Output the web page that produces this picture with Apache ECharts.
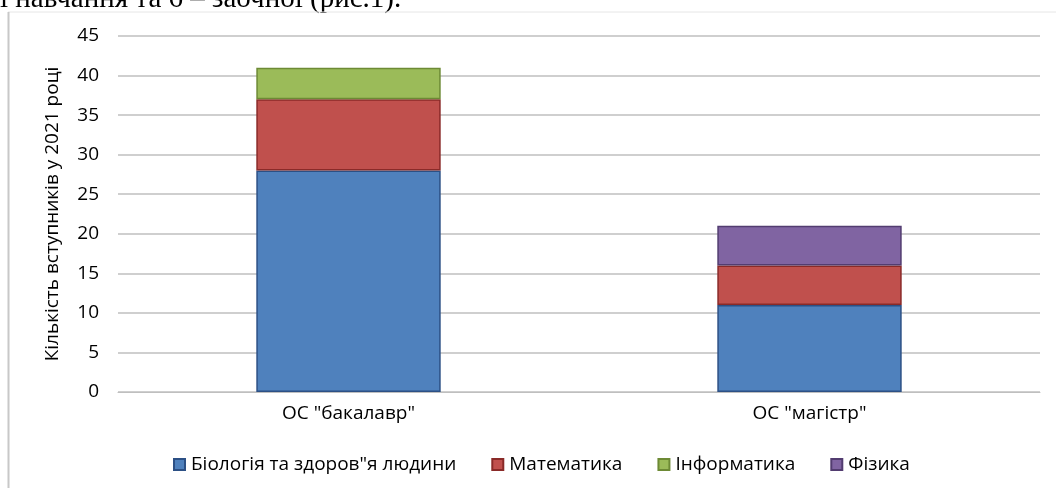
<!DOCTYPE html>
<html>
<head>
<meta charset="utf-8">
<script src="https://cdn.jsdelivr.net/npm/echarts@6/dist/echarts.min.js"></script>
<style>
  html, body { margin: 0; padding: 0; background: #fff; }
  #chart { width: 1056px; height: 488px; }
</style>
</head>
<body>
<div id="chart"></div>
<script>
// categories and series
var categories = ['ОС "бакалавр"', 'ОС "магістр"'];
var biology = [28, 11];
var maths = [9, 5];
var informatics = [4, 0];
var physics = [0, 5];
var yTicks = [0, 5, 10, 15, 20, 25, 30, 35, 40, 45];

var font = '"Open Sans", "Noto Sans", sans-serif';

function mkSeries(name, data, color, border) {
  return {
    name: name,
    type: 'bar',
    stack: 'total',
    barWidth: '40%',
    data: data.map(function (v) { return v === 0 ? null : v; }),
    itemStyle: { color: color, borderColor: border, borderWidth: 1.5 }
  };
}

var chart = echarts.init(document.getElementById('chart'));
chart.setOption({
  animation: false,
  graphic: [
    {
      type: 'text', left: 0, top: -15,
      style: { text: 'і навчання та 6 – заочної (рис.1).', font: '29px "Liberation Serif", serif', fill: '#000' }
    },
    {
      type: 'line', shape: { x1: 8, y1: 12, x2: 1056, y2: 12 },
      style: { stroke: '#e6e6e6', lineWidth: 1 }
    },
    {
      type: 'line', shape: { x1: 8.5, y1: 12, x2: 8.5, y2: 488 },
      style: { stroke: '#c8c8c8', lineWidth: 2 }
    }
  ],
  grid: { left: 118, right: 16, top: 36, bottom: 96 },
  legend: {
    bottom: 9,
    left: 168,
    itemWidth: 11,
    itemHeight: 11,
    itemGap: 35,
    icon: 'rect',
    textStyle: { fontFamily: font, fontSize: 19, color: '#000', padding: [0, 0, 0, 1] },
    data: ['Біологія та здоров"я людини', 'Математика', 'Інформатика', 'Фізика']
  },
  xAxis: {
    type: 'category',
    data: categories,
    axisTick: { show: false },
    axisLine: { lineStyle: { color: '#bfbfbf' } },
    axisLabel: { fontFamily: font, fontSize: 19, color: '#000', margin: 12 }
  },
  yAxis: {
    type: 'value',
    min: yTicks[0],
    max: yTicks[yTicks.length - 1],
    interval: 5,
    name: 'Кількість вступників у 2021 році',
    nameLocation: 'middle',
    nameGap: 56,
    nameTextStyle: { fontFamily: font, fontSize: 19, color: '#000' },
    axisLine: { show: false },
    axisTick: { show: false },
    axisLabel: { fontFamily: font, fontSize: 19, color: '#000', margin: 19 },
    splitLine: { lineStyle: { color: '#bfbfbf', width: 1.5 } }
  },
  series: [
    mkSeries('Біологія та здоров"я людини', biology, '#4F81BD', '#2C5085'),
    mkSeries('Математика', maths, '#C0504D', '#8A2A28'),
    mkSeries('Інформатика', informatics, '#9BBB59', '#6D8A35'),
    mkSeries('Фізика', physics, '#8064A2', '#523C70')
  ]
});
</script>
</body>
</html>
